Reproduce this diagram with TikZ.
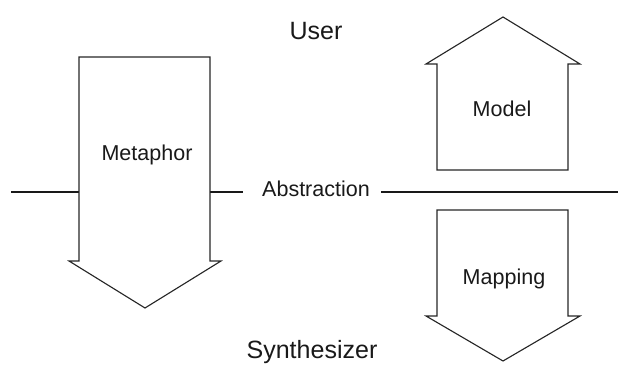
\documentclass[tikz,border=0pt]{standalone}
\usepackage{fontspec}
\setmainfont{Liberation Sans}
\usetikzlibrary{positioning}

\begin{document}
\begin{tikzpicture}[
  x=0.025cm, y=-0.025cm,
  flow/.style={draw=black!85, line width=0.8pt, line join=miter},
  divider/.style={draw=black!90, line width=1.5pt},
  bigtxt/.style={font=\fontsize{17.8}{20}\selectfont, inner sep=0pt, anchor=base, text=black!90},
  boxtxt/.style={font=\fontsize{15.3}{18}\selectfont, inner sep=0pt, anchor=base, text=black!90}
]
\useasboundingbox (0,0) rectangle (618,365);

% the two levels
\node[bigtxt] (user) at (316,40) {User};
\node[bigtxt] (synth) at (312,359) {Synthesizer};

% abstraction line
\node[boxtxt] (abstr) at (316,197) {Abstraction};
\coordinate (abL) at (11,192);
\coordinate (abR) at (618,192);
\draw[divider] (abL) -- (79,192);
\draw[divider] (210,192) -- (243,192);
\draw[divider] (381,192) -- (abR);

% downward arrow: metaphor
\draw[flow] (79,57) -- (210,57) -- (210,261) -- (221,261) -- (145,308)
  -- (69,261) -- (79,261) -- cycle;
\node[boxtxt] (metaphor) at (147,161) {Metaphor};

% upward arrow: model
\draw[flow] (437,170) -- (437,64) -- (426,64) -- (503,17) -- (580,64)
  -- (568,64) -- (568,170) -- cycle;
\node[boxtxt] (model) at (502,117) {Model};

% downward arrow: mapping
\draw[flow] (437,210) -- (568,210) -- (568,316) -- (580,316) -- (503,361)
  -- (426,316) -- (437,316) -- cycle;
\node[boxtxt] (mapping) at (504,285) {Mapping};

\end{tikzpicture}
\end{document}
